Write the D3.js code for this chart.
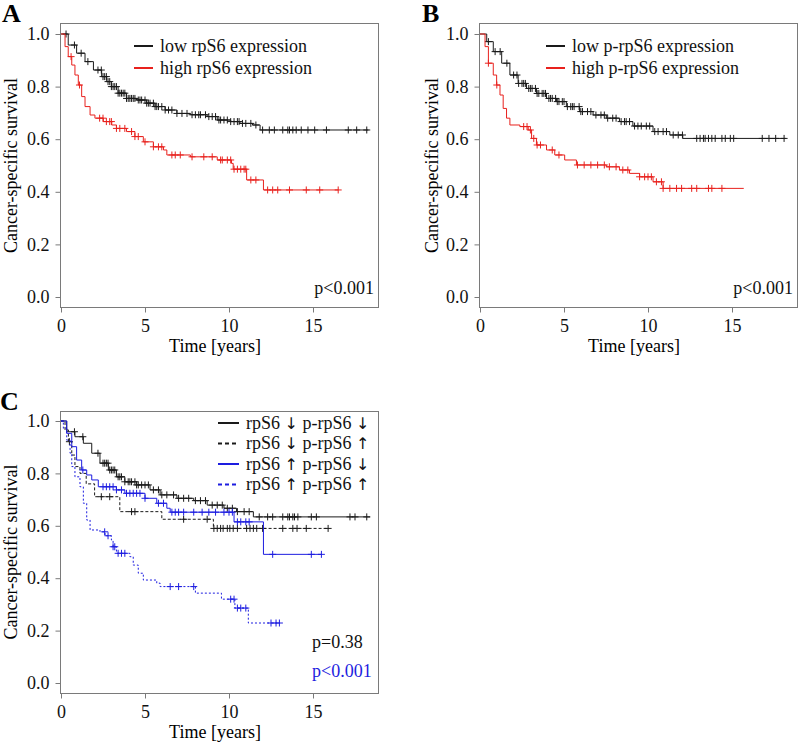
<!DOCTYPE html>
<html lang="en">
<head>
<meta charset="UTF-8">
<title>rpS6 / p-rpS6 cancer-specific survival</title>
<style>
  body { margin: 0; background: #fff; }
  svg { display: block; font-family: "Liberation Serif", "Times New Roman", serif; }
  .frame { fill: none; stroke: #7a7a7a; stroke-width: 1; }
  .axis path { display: none; }
  .axis line { stroke: #7a7a7a; }
  .axis text { font-size: 18px; fill: #111; font-family: "Liberation Serif", serif; }
  .arrow { font-family: "DejaVu Sans", sans-serif; font-size: 16px; }
</style>
</head>
<body>
<svg id="chart" width="799" height="745"></svg>
<script src="https://d3js.org/d3.v7.min.js"></script>
<script>
// ticks
const xTicks = [0, 5, 10, 15];
const yTicks = [0, 0.2, 0.4, 0.6, 0.8, 1.0];

// --- Panel A: rpS6 ---
const aLowSteps = [[0.43,0.958],[0.93,0.927],[1.43,0.895],[1.93,0.863],[2.42,0.838],[2.72,0.819],[3.0,0.80],[3.4,0.775],[3.9,0.755],[4.5,0.749],[5.1,0.737],[5.6,0.724],[6.2,0.711],[6.9,0.698],[7.7,0.693],[8.7,0.686],[9.3,0.673],[10.1,0.667],[10.65,0.66],[11.4,0.654],[11.85,0.635]];
const aLowEnd = 18.3;
const aLowCensor = [0.3,0.8,1.2,1.6,2.2,2.4,2.5,2.6,2.7,2.8,2.9,3.0,3.1,3.2,3.3,3.4,3.5,3.6,3.7,3.8,3.9,4.0,4.1,4.2,4.3,4.4,4.6,4.7,4.8,5.0,5.1,5.2,5.3,5.5,5.6,5.7,5.8,6.0,6.2,6.4,6.6,6.9,7.2,7.5,7.8,8.0,8.2,8.3,8.6,8.8,9.0,9.2,9.4,9.5,9.7,9.9,10.1,10.3,10.5,10.6,10.8,11.0,11.3,11.6,12.0,12.4,12.7,13.2,13.5,13.6,13.8,14.0,14.3,14.7,15.1,15.8,17.1,17.6,18.2];
const aHighSteps = [[0.24,0.952],[0.43,0.914],[0.64,0.882],[0.83,0.844],[1.03,0.806],[1.23,0.762],[1.43,0.724],[1.73,0.692],[2.02,0.68],[2.52,0.667],[3.02,0.654],[3.3,0.641],[3.9,0.629],[4.4,0.61],[4.9,0.59],[5.5,0.571],[6.1,0.559],[6.3,0.54],[7.7,0.533],[9.3,0.521],[10.15,0.508],[10.25,0.486],[11.05,0.445],[12.05,0.407]];
const aHighEnd = 16.5;
const aHighCensor = [0.6,1.1,2.3,2.5,2.7,2.9,3.0,3.3,3.5,3.8,4.2,4.4,4.6,5.0,5.5,5.8,6.0,6.6,6.8,7.1,7.8,8.5,9.0,9.5,9.6,9.9,10.1,10.3,10.5,10.7,10.9,11.0,11.3,11.6,12.3,12.6,12.9,13.6,14.6,15.4,16.5];

// --- Panel B: p-rpS6 ---
const bLowSteps = [[0.4,0.971],[0.79,0.933],[1.29,0.889],[1.78,0.844],[2.27,0.812],[2.77,0.793],[3.36,0.774],[3.96,0.755],[4.55,0.743],[5.14,0.724],[5.93,0.705],[6.73,0.692],[7.52,0.68],[8.3,0.667],[9.1,0.65],[10.3,0.629],[11.3,0.616],[12.07,0.603]];
const bLowEnd = 18.2;
const bLowCensor = [0.5,0.9,1.2,1.6,2.0,2.2,2.3,2.5,2.6,2.7,2.9,3.0,3.1,3.3,3.4,3.5,3.7,3.8,3.9,4.1,4.2,4.3,4.5,4.6,4.7,4.9,5.0,5.2,5.4,5.5,5.6,5.9,6.0,6.1,6.4,6.6,6.9,7.2,7.4,7.6,7.9,8.1,8.4,8.6,8.7,8.9,9.2,9.4,9.6,9.9,10.1,10.4,10.6,10.9,11.1,11.5,11.8,12.05,12.9,13.1,13.3,13.4,13.6,13.8,14.0,14.4,14.6,14.9,15.1,16.8,17.2,17.6,18.1];
const bHighSteps = [[0.3,0.952],[0.5,0.889],[0.79,0.844],[0.99,0.806],[1.19,0.768],[1.38,0.717],[1.58,0.68],[1.78,0.654],[2.37,0.648],[2.87,0.635],[3.07,0.603],[3.36,0.578],[3.96,0.559],[4.45,0.54],[5.04,0.521],[5.74,0.502],[7.52,0.495],[8.3,0.483],[8.9,0.47],[9.5,0.457],[10.3,0.438],[10.9,0.413]];
const bHighEnd = 15.7;
const bHighCensor = [0.5,1.0,2.6,2.8,3.0,3.2,3.4,3.6,4.3,4.7,5.8,6.2,6.6,7.0,7.4,7.7,8.1,8.5,8.8,9.5,9.8,10.0,10.2,10.5,10.8,10.9,11.3,11.7,12.0,12.6,12.9,13.6,13.8,14.4];

// --- Panel C: combined ---
const cLowLowSteps = [[0.34,0.959],[0.83,0.94],[1.33,0.915],[1.83,0.877],[2.32,0.839],[2.82,0.813],[3.3,0.787],[3.8,0.768],[4.5,0.756],[5.3,0.737],[5.9,0.718],[6.9,0.705],[7.9,0.696],[8.7,0.679],[9.7,0.667],[10.45,0.654],[11.45,0.634]];
const cLowLowEnd = 18.4;
const cLowLowCensor = [0.8,1.3,2.2,2.5,2.6,2.7,2.8,2.9,3.0,3.1,3.2,3.4,3.5,3.6,3.8,4.0,4.1,4.2,4.4,4.5,4.6,4.8,5.0,5.2,5.5,5.8,6.0,6.3,6.7,7.0,7.3,7.6,8.0,8.3,8.6,9.0,9.3,9.6,9.9,10.2,10.5,10.9,11.2,11.8,12.3,12.6,13.2,13.5,13.6,13.8,13.9,14.1,14.9,15.2,17.2,17.5,18.2];
const cLowHighSteps = [[0.24,0.966],[0.44,0.921],[0.64,0.87],[0.83,0.826],[1.13,0.80],[1.5,0.76],[2.0,0.711],[3.5,0.654],[6.0,0.625],[9.07,0.59]];
const cLowHighEnd = 15.9;
const cLowHighCensor = [0.5,2.4,2.9,4.2,4.4,7.3,8.7,9.1,9.3,9.5,9.65,9.9,10.05,10.25,10.5,11.05,11.25,11.45,11.65,12.0,13.2,13.8,14.05,14.6,15.9];
const cHighLowSteps = [[0.34,0.953],[0.64,0.902],[0.93,0.851],[1.23,0.813],[1.53,0.794],[1.83,0.775],[2.22,0.749],[3.3,0.737],[3.8,0.724],[5.0,0.705],[5.7,0.686],[6.3,0.667],[6.5,0.652],[10.3,0.615],[12.05,0.491]];
const cHighLowEnd = 15.5;
const cHighLowCensor = [1.3,2.5,2.7,2.9,3.1,3.3,3.6,3.9,4.1,4.3,4.5,4.7,5.0,5.8,6.1,6.6,6.8,7.0,7.3,7.9,8.4,8.8,9.2,9.7,10.0,10.2,10.5,10.7,11.0,11.2,12.6,14.9,15.5];
const cHighHighSteps = [[0.14,0.972],[0.34,0.927],[0.54,0.877],[0.64,0.826],[0.83,0.787],[1.13,0.749],[1.33,0.686],[1.53,0.622],[1.73,0.584],[2.32,0.577],[2.62,0.562],[3.0,0.546],[3.1,0.52],[3.3,0.495],[4.1,0.482],[4.3,0.45],[4.6,0.419],[4.9,0.393],[5.7,0.381],[5.9,0.368],[8.0,0.343],[9.55,0.32],[10.35,0.286],[11.15,0.229]];
const cHighHighEnd = 13.0;
const cHighHighCensor = [2.6,2.8,3.1,3.2,3.4,3.6,3.8,6.5,7.0,7.9,10.1,10.3,10.5,10.7,11.0,12.5,12.8,13.0];

const colBlack = "#1a1a1a", colRed = "#e8211d", colBlue = "#1d1de0";

const svg = d3.select("#chart");

function survAt(steps, t) {
  let s = 1;
  steps.forEach(d => { if (d[0] <= t) s = d[1]; });
  return s;
}

function drawPanel(p) {
  const g = svg.append("g");
  const x = d3.scaleLinear().domain([0, 18.9]).range([p.x0, p.x0 + 18.9 * 16.8]);
  const y = d3.scaleLinear().domain([0, 1]).range([p.yZero, p.yOne]);

  g.append("rect").attr("class", "frame")
    .attr("x", p.box[0] + 0.5).attr("y", p.box[1] + 0.5)
    .attr("width", p.box[2] - p.box[0]).attr("height", p.box[3] - p.box[1]);

  g.append("g").attr("class", "axis")
    .attr("transform", `translate(0,${p.box[3] + 0.5})`)
    .call(d3.axisBottom(x).tickValues(xTicks).tickSize(5).tickPadding(7).tickFormat(d3.format("d")));

  g.append("g").attr("class", "axis")
    .attr("transform", `translate(${p.box[0] + 0.5},0)`)
    .call(d3.axisLeft(y).tickValues(yTicks).tickSize(5).tickPadding(6).tickFormat(d3.format(".1f")));

  // axis titles
  g.append("text")
    .attr("transform", `translate(${p.ylabX},${(p.yZero + p.yOne) / 2}) rotate(-90)`)
    .attr("text-anchor", "middle").attr("dy", "0.35em")
    .style("font-size", "18px").text("Cancer-specific survival");
  g.append("text")
    .attr("x", (p.box[0] + p.box[2]) / 2 - 4).attr("y", p.box[3] + 45)
    .attr("text-anchor", "middle")
    .style("font-size", "18px").text("Time [years]");

  // panel letter
  g.append("text").attr("x", p.letterX).attr("y", p.letterY)
    .style("font-size", "26px").style("font-weight", "bold").text(p.letter);

  const line = d3.line().x(d => x(d[0])).y(d => y(d[1])).curve(d3.curveStepAfter);

  p.curves.forEach(c => {
    const last = c.steps[c.steps.length - 1][1];
    const pts = [[0, 1]].concat(c.steps, [[c.end, last]]);
    g.append("path").datum(pts)
      .attr("d", line)
      .attr("fill", "none").attr("stroke", c.color).attr("stroke-width", 1)
      .attr("stroke-dasharray", c.dash || null);
    g.append("path")
      .attr("d", c.censor.map(t => {
        const cx = x(t), cy = y(survAt(c.steps, t));
        return `M${cx - 3.5},${cy}h7M${cx},${cy - 3.5}v7`;
      }).join(""))
      .attr("fill", "none").attr("stroke", c.color).attr("stroke-width", 1);
  });

  // legend
  p.curves.forEach((c, i) => {
    const ly = p.legY + i * p.legStep;
    g.append("line")
      .attr("x1", p.legX).attr("x2", p.legX + p.legLen).attr("y1", ly).attr("y2", ly)
      .attr("stroke", c.color).attr("stroke-width", 2)
      .attr("stroke-dasharray", c.dash ? "4,3" : null);
    const t = g.append("text").attr("x", p.legX + p.legLen + 7).attr("y", ly).attr("dy", "0.33em")
      .attr("fill", "#111").style("font-size", "18px");
    // arrows come from a font that has them, the rest stays serif
    c.label.split(/([\u2191\u2193])/).forEach(part => {
      if (!part) return;
      const span = t.append("tspan").attr("fill", "#111").text(part);
      if (part === "\u2191" || part === "\u2193") span.attr("class", "arrow");
    });
  });

  // p values
  p.pvals.forEach(v => {
    g.append("text").attr("x", v.x).attr("y", v.y)
      .attr("text-anchor", v.anchor).attr("fill", v.color)
      .style("font-size", "18px").text(v.text);
  });
}

drawPanel({
  letter: "A", letterX: 2, letterY: 22,
  x0: 61, yZero: 297, yOne: 34, box: [60, 23, 378, 307], ylabX: 11,
  legX: 134, legY: 46, legStep: 22, legLen: 19,
  curves: [
    {label: "low rpS6 expression", color: colBlack, steps: aLowSteps, end: aLowEnd, censor: aLowCensor},
    {label: "high rpS6 expression", color: colRed, steps: aHighSteps, end: aHighEnd, censor: aHighCensor}
  ],
  pvals: [{text: "p<0.001", x: 374, y: 294, anchor: "end", color: "#111"}]
});

drawPanel({
  letter: "B", letterX: 422, letterY: 22,
  x0: 480, yZero: 297, yOne: 34, box: [479, 23, 797, 307], ylabX: 432,
  legX: 546, legY: 46, legStep: 22, legLen: 19,
  curves: [
    {label: "low p-rpS6 expression", color: colBlack, steps: bLowSteps, end: bLowEnd, censor: bLowCensor},
    {label: "high p-rpS6 expression", color: colRed, steps: bHighSteps, end: bHighEnd, censor: bHighCensor}
  ],
  pvals: [{text: "p<0.001", x: 793, y: 294, anchor: "end", color: "#111"}]
});

drawPanel({
  letter: "C", letterX: 0, letterY: 410,
  x0: 61, yZero: 683, yOne: 421, box: [60, 411, 378, 693], ylabX: 11,
  legX: 218, legY: 423, legStep: 20.5, legLen: 21,
  curves: [
    {label: "rpS6 \u2193 p-rpS6 \u2193", color: colBlack, steps: cLowLowSteps, end: cLowLowEnd, censor: cLowLowCensor},
    {label: "rpS6 \u2193 p-rpS6 \u2191", color: colBlack, dash: "3,2", steps: cLowHighSteps, end: cLowHighEnd, censor: cLowHighCensor},
    {label: "rpS6 \u2191 p-rpS6 \u2193", color: colBlue, steps: cHighLowSteps, end: cHighLowEnd, censor: cHighLowCensor},
    {label: "rpS6 \u2191 p-rpS6 \u2191", color: colBlue, dash: "2,2", steps: cHighHighSteps, end: cHighHighEnd, censor: cHighHighCensor}
  ],
  pvals: [
    {text: "p=0.38", x: 312, y: 648, anchor: "start", color: "#111"},
    {text: "p<0.001", x: 312, y: 677, anchor: "start", color: colBlue}
  ]
});
</script>
</body>
</html>
